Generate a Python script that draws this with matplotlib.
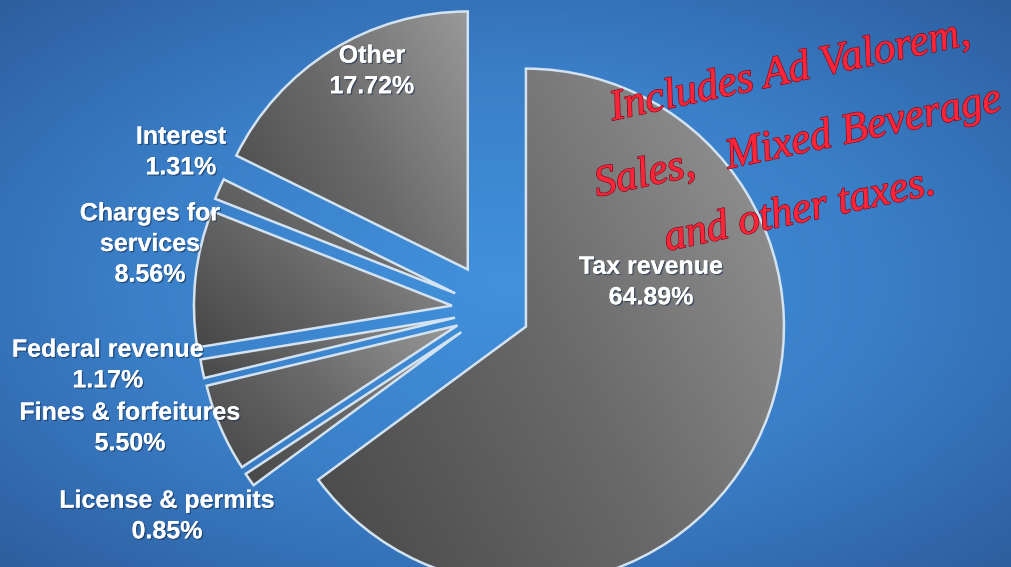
import numpy as np
import matplotlib
matplotlib.use("Agg")
import matplotlib.pyplot as plt
import matplotlib.patheffects as pe
from matplotlib.colors import LinearSegmentedColormap

# ---- data ----
categories = ["Tax revenue", "License & permits", "Fines & forfeitures",
              "Federal revenue", "Charges for\nservices", "Interest", "Other"]
shares = [64.89, 0.85, 5.50, 1.17, 8.56, 1.31, 17.72]
pct_labels = ["64.89%", "0.85%", "5.50%", "1.17%", "8.56%", "1.31%", "17.72%"]
explode = [0.143, 0.15, 0.15, 0.15, 0.16, 0.16, 0.185]
note_lines = ["Includes Ad Valorem,", "Sales,   Mixed Beverage", "and other taxes."]

# ---- layout helpers (pixel -> data) ----
W, H = 1011, 567
CX, CY, R = 493, 310, 258


def px(x, y):
    return ((x - CX) / R, (CY - y) / R)


fig = plt.figure(figsize=(W / 100, H / 100), dpi=100)
ax = fig.add_axes([0, 0, 1, 1])
x0, y0 = px(0, H)
x1, y1 = px(W, 0)

# background radial gradient
gx, gy = np.meshgrid(np.linspace(0, 1, 400), np.linspace(0, 1, 240))
d = np.sqrt(((gx - 0.5) / 0.75) ** 2 + ((gy - 0.5) / 0.75) ** 2)
bg_cmap = LinearSegmentedColormap.from_list("bg", ["#4291dc", "#3a7fc8", "#2c5a9a"])
ax.imshow(d, cmap=bg_cmap, extent=(x0, x1, y0, y1), origin="upper",
          aspect="auto", zorder=0, vmin=0, vmax=1.0)

wedges, _ = ax.pie(shares, explode=explode, startangle=90, counterclock=False,
                   radius=1, center=(0, 0),
                   wedgeprops=dict(edgecolor="#d4e3f2", linewidth=1.8,
                                   facecolor="none"))

gray_cmap = LinearSegmentedColormap.from_list("gr", ["#474747", "#6a6a6a", "#999999"])
for w in wedges:
    w.set_zorder(3)
    v = w.get_path().vertices
    xmin, xmax = v[:, 0].min(), v[:, 0].max()
    ymin, ymax = v[:, 1].min(), v[:, 1].max()
    u, t = np.meshgrid(np.linspace(0, 1, 200), np.linspace(1, 0, 200))
    g = (u * 1.0 + t * 0.6) / 1.6
    im = ax.imshow(g, cmap=gray_cmap, extent=(xmin, xmax, ymin, ymax),
                   origin="upper", aspect="auto", zorder=2, vmin=0, vmax=1)
    im.set_clip_path(w)

ax.set_xlim(x0, x1)
ax.set_ylim(y0, y1)
ax.set_aspect("auto")
ax.axis("off")

# ---- labels ----
label_pos = {
    "Tax revenue": (651, 282),
    "License & permits": (167, 516),
    "Fines & forfeitures": (130, 428),
    "Federal revenue": (108, 365),
    "Charges for\nservices": (150, 244),
    "Interest": (181, 152),
    "Other": (372, 71),
}
shadow = [pe.withSimplePatchShadow(offset=(1, -1), shadow_rgbFace="#1b3050", alpha=0.6),
          pe.Normal()]
for cat, pct in zip(categories, pct_labels):
    x, y = px(*label_pos[cat])
    ax.text(x, y, f"{cat}\n{pct}", ha="center", va="center", multialignment="center",
            color="white", fontsize=18, fontweight="bold", family="Liberation Sans",
            linespacing=1.35, zorder=5, path_effects=shadow)

# ---- handwritten note ----
note_pos = [(790, 72), (798, 143), (800, 212)]
red_fx = [pe.withStroke(linewidth=1.2, foreground="#7a1020"), pe.Normal()]
for line, (nx, ny) in zip(note_lines, note_pos):
    x, y = px(nx, ny)
    ax.text(x, y, line, ha="center", va="center", color="#ff2438", fontsize=31,
            family="Liberation Serif", style="italic", rotation=12,
            rotation_mode="anchor", zorder=6, path_effects=red_fx)

fig.savefig("out.png", dpi=100)
